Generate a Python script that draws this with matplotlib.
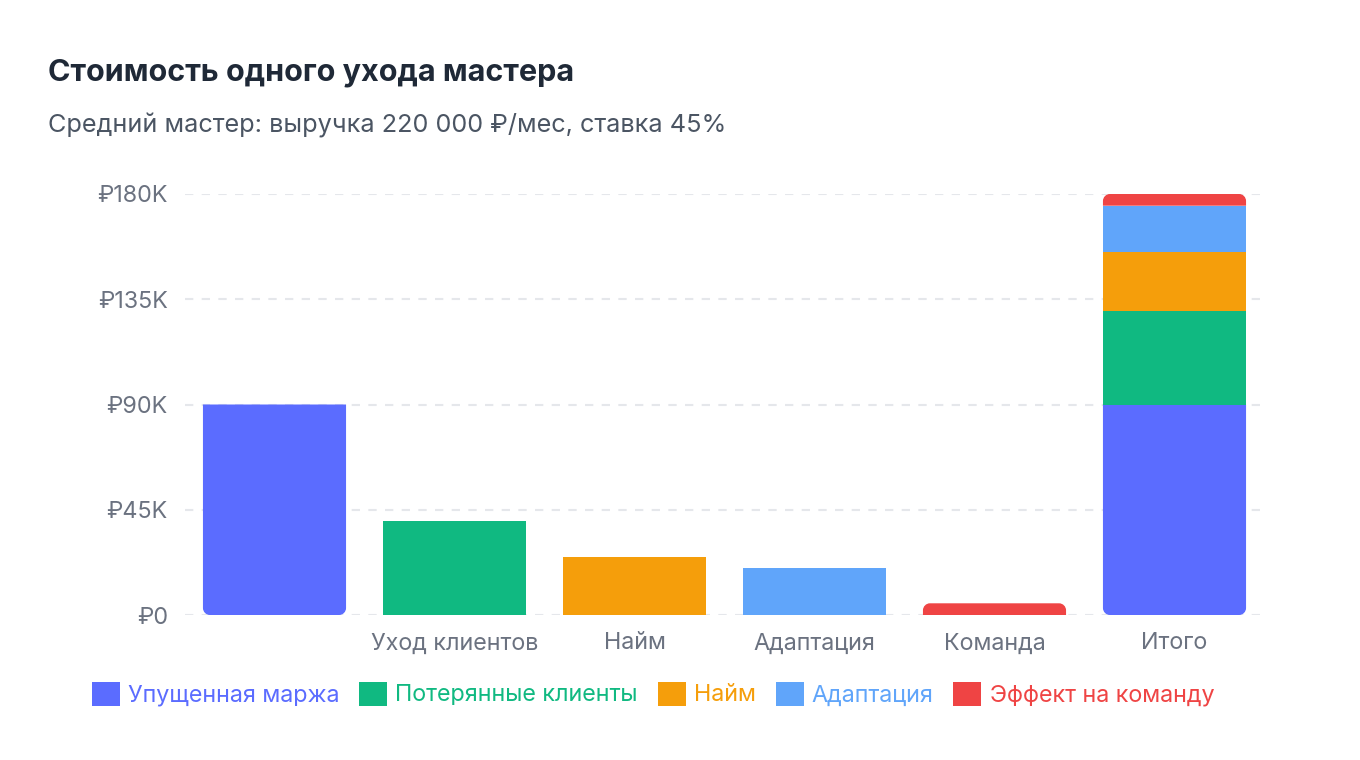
import numpy as np
import matplotlib
matplotlib.use("Agg")
import matplotlib.pyplot as plt
from matplotlib.path import Path
from matplotlib.patches import PathPatch, Patch
from matplotlib.ticker import FuncFormatter

plt.rcParams['font.family'] = ['Inter', 'DejaVu Sans']

# ---- data ----
categories = ["", "Уход клиентов", "Найм", "Адаптация", "Команда", "Итого"]
series_names = ["Упущенная маржа", "Потерянные клиенты", "Найм", "Адаптация", "Эффект на команду"]
lost_margin = [90, 0, 0, 0, 0, 90]
lost_clients = [0, 40, 0, 0, 0, 40]
hiring = [0, 0, 25, 0, 0, 25]
onboarding = [0, 0, 0, 20, 0, 20]
team_effect = [0, 0, 0, 0, 5, 5]
series_values = [lost_margin, lost_clients, hiring, onboarding, team_effect]
colors = ["#5b6cff", "#10b981", "#f59e0b", "#60a5fa", "#ef4444"]
y_ticks = [0, 45, 90, 135, 180]

title = "Стоимость одного ухода мастера"
subtitle = "Средний мастер: выручка 220 000 ₽/мес, ставка 45%"

W, H = 1360, 760
fig = plt.figure(figsize=(W / 100, H / 100), dpi=100)
fig.patch.set_facecolor("white")

ax_l, ax_r, ax_t, ax_b = 184.5, 1264.5, 194, 615
ax = fig.add_axes([ax_l / W, 1 - ax_b / H, (ax_r - ax_l) / W, (ax_b - ax_t) / H])

x = np.arange(len(categories))
bottom = np.zeros(len(categories))
bar_width = 0.795

ax.set_xlim(-0.5, len(categories) - 0.5)
ax.set_ylim(0, 180)

# pixel to data radius
r_px = 7
rx = r_px / ((ax_r - ax_l) / len(categories))
ry = r_px / ((ax_b - ax_t) / 180)

K = 0.5523


def rounded_path(x0, x1, y0, y1, round_top, round_bottom):
    ryy = min(ry, (y1 - y0))
    verts, codes = [], []
    if round_bottom:
        verts += [(x0, y0 + ryy)]
    else:
        verts += [(x0, y0)]
    codes += [Path.MOVETO]
    if round_top:
        verts += [(x0, y1 - ryy),
                  (x0, y1 - ryy + K * ryy), (x0 + rx - K * rx, y1), (x0 + rx, y1),
                  (x1 - rx, y1),
                  (x1 - rx + K * rx, y1), (x1, y1 - ryy + K * ryy), (x1, y1 - ryy)]
        codes += [Path.LINETO, Path.CURVE4, Path.CURVE4, Path.CURVE4,
                  Path.LINETO, Path.CURVE4, Path.CURVE4, Path.CURVE4]
    else:
        verts += [(x0, y1), (x1, y1)]
        codes += [Path.LINETO, Path.LINETO]
    if round_bottom:
        verts += [(x1, y0 + ryy),
                  (x1, y0 + ryy - K * ryy), (x1 - rx + K * rx, y0), (x1 - rx, y0),
                  (x0 + rx, y0),
                  (x0 + rx - K * rx, y0), (x0, y0 + ryy - K * ryy), (x0, y0 + ryy)]
        codes += [Path.LINETO, Path.CURVE4, Path.CURVE4, Path.CURVE4,
                  Path.LINETO, Path.CURVE4, Path.CURVE4, Path.CURVE4]
    else:
        verts += [(x1, y0), (x0, y0)]
        codes += [Path.LINETO, Path.LINETO]
    verts += [(0, 0)]
    codes += [Path.CLOSEPOLY]
    return Path(verts, codes)


n_series = len(series_values)
for si, (vals, col) in enumerate(zip(series_values, colors)):
    vals = np.array(vals, dtype=float)
    bars = ax.bar(x, vals, bottom=bottom, width=bar_width, color=col, zorder=3)
    for rect, v in zip(bars, vals):
        if v <= 0:
            continue
        rect.set_visible(False)
        x0 = rect.get_x()
        x1 = x0 + rect.get_width()
        y0 = rect.get_y()
        y1 = y0 + rect.get_height()
        p = rounded_path(x0, x1, y0, y1, round_top=(si == n_series - 1), round_bottom=(si == 0))
        ax.add_patch(PathPatch(p, facecolor=col, edgecolor="none", zorder=3))
    bottom += vals

# axes styling
for s in ax.spines.values():
    s.set_visible(False)
ax.set_yticks(y_ticks)
ax.yaxis.set_major_formatter(FuncFormatter(lambda v, p: "₽0" if v == 0 else f"₽{int(v)}K"))
ax.set_xticks(x)
ax.set_xticklabels(categories)
ax.tick_params(axis="both", length=0, labelsize=16.8, labelcolor="#6b7280")
ax.tick_params(axis="x", pad=12.5)
ax.tick_params(axis="y", pad=12)
ax.grid(axis="y", color="#e5e7eb", linestyle=(0, (4, 4)), linewidth=1.5, zorder=0)
ax.set_axisbelow(True)
ax.patch.set_alpha(0)

# title/subtitle
fig.text(48 / W, 1 - 73 / H, title, fontsize=22, fontweight="bold", color="#1f2937",
         ha="left", va="center")
fig.text(48 / W, 1 - 126 / H, subtitle, fontsize=18.2, color="#4b5563",
         ha="left", va="center")

# legend
handles = [Patch(facecolor=c, edgecolor="none") for c in colors]
leg = fig.legend(handles, series_names, loc="center", bbox_to_anchor=(653 / W, 1 - 694 / H),
                 ncol=5, frameon=False, fontsize=16.8, handlelength=1.2, handleheight=1.2,
                 handletextpad=0.35, columnspacing=0.85, borderaxespad=0)
for t, c in zip(leg.get_texts(), colors):
    t.set_color(c)

fig.savefig("out.png", dpi=100, facecolor="white")
